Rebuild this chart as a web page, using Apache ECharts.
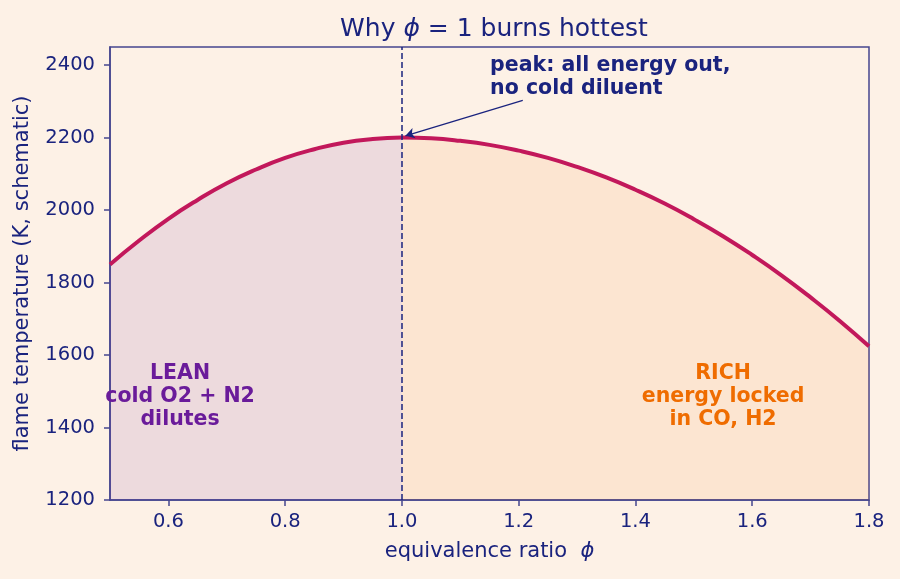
<!DOCTYPE html>
<html>
<head>
<meta charset="utf-8">
<script src="https://cdn.jsdelivr.net/npm/echarts@6/dist/echarts.min.js"></script>
<style>
  html, body { margin: 0; padding: 0; background: #fdf1e6; }
  #chart { width: 900px; height: 579px; }
</style>
</head>
<body>
<div id="chart"></div>
<script>
// lean side (phi <= 1)
const leanPhi = [0.5, 0.55, 0.6, 0.65, 0.7, 0.75, 0.8, 0.85, 0.9, 0.95, 1.0];
const leanTemp = [1850, 1916, 1976, 2028, 2074, 2112, 2144, 2168, 2186, 2196, 2200];

// rich side (phi >= 1)
const richPhi = [1.0, 1.05, 1.1, 1.15, 1.2, 1.25, 1.3, 1.35, 1.4, 1.45, 1.5, 1.55, 1.6, 1.65, 1.7, 1.75, 1.8];
const richTemp = [2200, 2198, 2191, 2180, 2164, 2144, 2119, 2090, 2056, 2018, 1975, 1928, 1876, 1820, 1759, 1694, 1624];

const xTicks = [0.6, 0.8, 1.0, 1.2, 1.4, 1.6, 1.8];
const yTicks = [1200, 1400, 1600, 1800, 2000, 2200, 2400];

const navy = '#1a237e';
const frame = '#45458f';
const curve = '#c2185b';
const font = 'DejaVu Sans';

const chart = echarts.init(document.getElementById('chart'), null, { renderer: 'canvas' });

const leanData = leanPhi.map((p, i) => [p, leanTemp[i]]);
const richData = richPhi.map((p, i) => [p, richTemp[i]]);

// bold annotation label
const note = (text, color, extra) => Object.assign({
  show: true,
  position: 'inside',
  formatter: text,
  color: color,
  fontWeight: 'bold',
  fontSize: 20.5,
  lineHeight: 23,
  align: 'center',
  fontFamily: font
}, extra || {});

const option = {
  backgroundColor: '#fdf1e6',
  animation: false,
  textStyle: { fontFamily: font },
  title: {
    text: 'Why {i|ϕ} = 1 burns hottest',
    left: 489,
    textAlign: 'center',
    top: 12,
    textStyle: {
      color: navy,
      fontSize: 25,
      fontWeight: 'normal',
      fontFamily: font,
      rich: {
        i: { fontStyle: 'italic', fontSize: 25, color: navy, fontFamily: font }
      }
    }
  },
  grid: {
    left: 110, right: 31, top: 47, bottom: 79,
    show: true,
    borderColor: frame,
    borderWidth: 1.5,
    backgroundColor: 'transparent'
  },
  xAxis: {
    type: 'value',
    min: 0.5,
    max: 1.8,
    name: 'equivalence ratio  {i|ϕ}',
    nameLocation: 'middle',
    nameGap: 41,
    nameTextStyle: {
      color: navy, fontSize: 21, fontFamily: font,
      rich: { i: { fontStyle: 'italic', fontSize: 21, color: navy, fontFamily: font } }
    },
    axisLine: { show: true, lineStyle: { color: frame, width: 1.5 } },
    axisTick: { show: true, length: 6, customValues: xTicks, lineStyle: { color: frame, width: 1.5 } },
    axisLabel: {
      color: navy, fontSize: 19.5, margin: 12, fontFamily: font,
      customValues: xTicks,
      formatter: v => v.toFixed(1)
    },
    splitLine: { show: false }
  },
  yAxis: {
    type: 'value',
    min: 1200,
    max: 2450,
    name: 'flame temperature (K, schematic)',
    nameLocation: 'middle',
    nameGap: 77,
    nameTextStyle: { color: navy, fontSize: 21, fontFamily: font },
    axisLine: { show: true, lineStyle: { color: frame, width: 1.5 } },
    axisTick: { show: true, length: 6, customValues: yTicks, lineStyle: { color: frame, width: 1.5 } },
    axisLabel: {
      color: navy, fontSize: 19.5, margin: 15, fontFamily: font,
      customValues: yTicks,
      formatter: v => String(v)
    },
    splitLine: { show: false }
  },
  series: [
    {
      name: 'lean',
      type: 'line',
      data: leanData,
      showSymbol: false,
      smooth: true,
      lineStyle: { color: curve, width: 4 },
      areaStyle: { color: 'rgba(106,27,154,0.15)', origin: 'start' },
      z: 3,
      markLine: {
        silent: true,
        symbol: 'none',
        label: { show: false },
        lineStyle: { color: navy, type: [6, 3], width: 1.5 },
        data: [{ xAxis: 1.0 }]
      },
      markPoint: {
        silent: true,
        symbol: 'circle',
        symbolSize: 0,
        data: [{
          coord: [0.62, 1485],
          label: note('LEAN\ncold O2 + N2\ndilutes', '#6a1b9a')
        }]
      }
    },
    {
      name: 'rich',
      type: 'line',
      data: richData,
      showSymbol: false,
      smooth: true,
      lineStyle: { color: curve, width: 4 },
      areaStyle: { color: 'rgba(239,108,0,0.13)', origin: 'start' },
      z: 3,
      markLine: {
        silent: true,
        symbol: ['none', 'arrow'],
        symbolSize: [8, 9],
        label: { show: false },
        lineStyle: { color: navy, type: 'solid', width: 1.3 },
        data: [[{ coord: [1.207, 2303] }, { coord: [1.006, 2205] }]]
      },
      markPoint: {
        silent: true,
        symbol: 'circle',
        symbolSize: 0,
        data: [
          {
            coord: [1.151, 2368],
            label: note('peak: all energy out,\nno cold diluent', navy, { position: 'right', distance: 0, align: 'left' })
          },
          {
            coord: [1.55, 1485],
            label: note('RICH\nenergy locked\nin CO, H2', '#ef6c00')
          }
        ]
      }
    }
  ]
};

chart.setOption(option);
</script>
</body>
</html>
